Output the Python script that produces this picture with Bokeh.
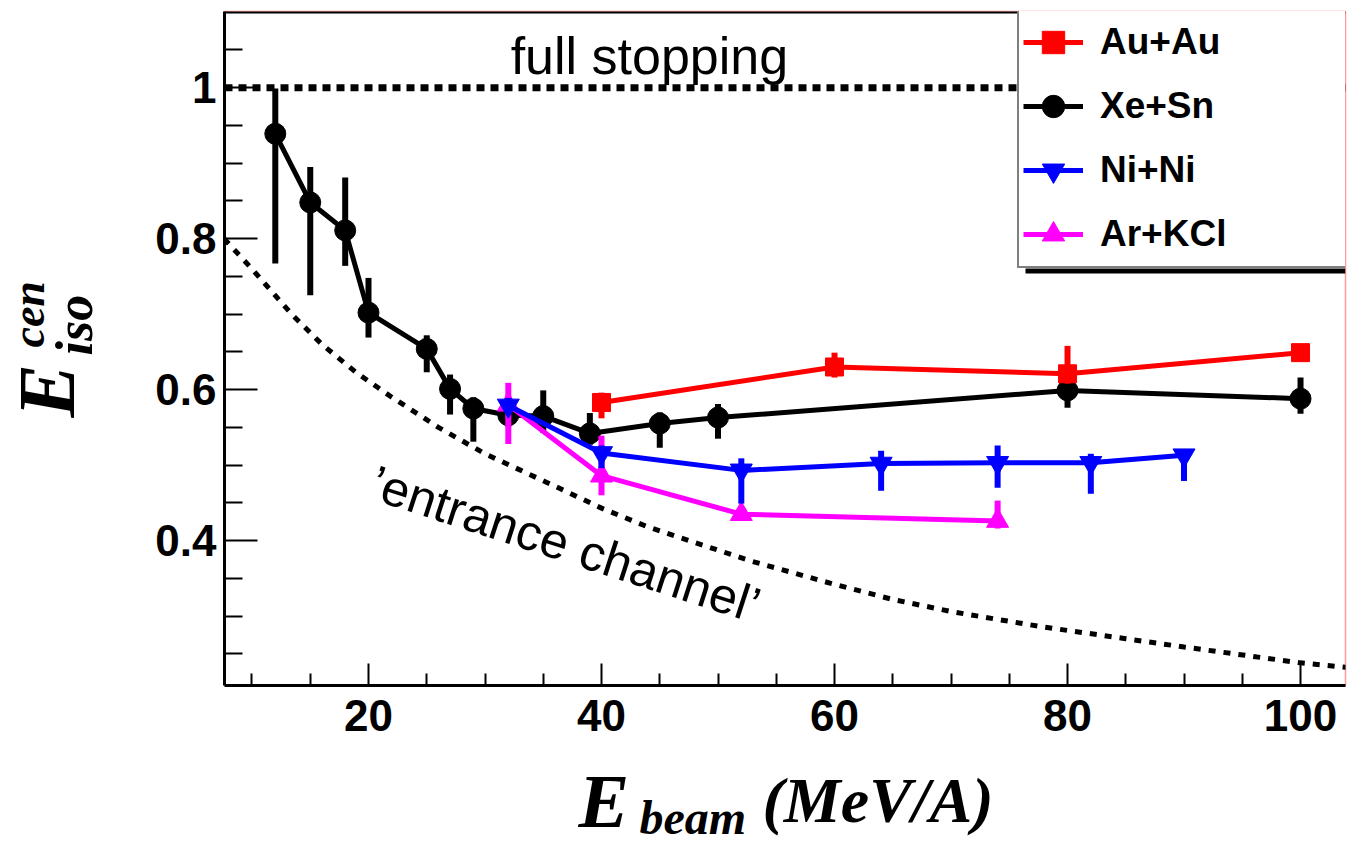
import numpy as np
from bokeh.plotting import figure
from bokeh.layouts import row, column
from bokeh.models import (Range1d, FixedTicker, CustomJSTickFormatter, Label, Legend,
                          LegendItem, Span, BoxAnnotation, ColumnDataSource)
from bokeh.embed import file_html
from bokeh.resources import INLINE

# ---- data: beam energy (MeV/A), E_iso^cen, lower / upper error ----
xesn_e = [12, 15, 18, 20, 25, 27, 29, 32, 35, 39, 45, 50, 80, 100]
xesn_v = [0.939, 0.848, 0.811, 0.702, 0.654, 0.601, 0.575, 0.566, 0.565, 0.542, 0.555, 0.563, 0.599, 0.588]
xesn_lo = [0.172, 0.123, 0.047, 0.033, 0.031, 0.034, 0.044, 0.015, 0.022, 0.015, 0.032, 0.028, 0.023, 0.020]
xesn_hi = [0.060, 0.047, 0.070, 0.046, 0.018, 0.019, 0.015, 0.015, 0.034, 0.027, 0.015, 0.018, 0.013, 0.028]

auau_e = [40, 60, 80, 100]
auau_v = [0.583, 0.630, 0.621, 0.649]
auau_lo = [0.021, 0.014, 0.013, 0.010]
auau_hi = [0.013, 0.019, 0.037, 0.010]

nini_e = [32, 40, 52, 64, 74, 82, 90]
nini_v = [0.579, 0.516, 0.493, 0.502, 0.503, 0.503, 0.513]
nini_lo = [0.010, 0.020, 0.044, 0.036, 0.033, 0.041, 0.034]
nini_hi = [0.010, 0.010, 0.016, 0.017, 0.023, 0.012, 0.008]

arkcl_e = [32, 40, 52, 74]
arkcl_v = [0.580, 0.486, 0.435, 0.426]
arkcl_lo = [0.052, 0.026, 0.005, 0.010]
arkcl_hi = [0.029, 0.053, 0.005, 0.027]

# 'entrance channel' reference curve
entrance_e = [7.6, 10, 13.4, 16, 19, 22, 26, 30, 35.6, 40, 44, 52.8, 60, 65, 70, 77.7, 85, 90, 100, 104]
entrance_v = [0.80, 0.76, 0.70, 0.66, 0.622, 0.59, 0.55, 0.515, 0.475, 0.443, 0.418, 0.373,
              0.342, 0.322, 0.306, 0.286, 0.270, 0.259, 0.238, 0.232]

full_stopping = 1.0

x_major = [20, 40, 60, 80, 100]
x_minor = [10, 15, 25, 30, 35, 45, 50, 55, 65, 70, 75, 85, 90, 95]
y_major = [0.4, 0.6, 0.8, 1.0]
y_minor = [0.25, 0.3, 0.35, 0.45, 0.5, 0.55, 0.65, 0.7, 0.75, 0.85, 0.9, 0.95, 1.05]

X_START, X_END = 7.64, 103.86
Y_START, Y_END = 0.208, 1.101

SANS = "Liberation Sans"
SERIF = "Liberation Serif"

TOTAL_W, TOTAL_H = 1349, 844
TITLE_W = 110                   # strip holding the y-axis title
MAIN_W, MAIN_H = TOTAL_W - TITLE_W, 750
XT_H = TOTAL_H - MAIN_H         # strip holding the x-axis title
FRAME_TOP, FRAME_BOTTOM = 11, 685

p = figure(width=MAIN_W, height=MAIN_H, output_backend="svg", toolbar_location=None,
           x_range=Range1d(X_START, X_END), y_range=Range1d(Y_START, Y_END),
           min_border_left=224 - TITLE_W, min_border_right=4, min_border_top=FRAME_TOP,
           min_border_bottom=MAIN_H - FRAME_BOTTOM)
p.background_fill_color = "white"
p.border_fill_color = "white"
p.outline_line_color = "#ff9a9a"
p.outline_line_width = 1.5
p.grid.visible = False

# axes
for ax in (p.xaxis[0], p.yaxis[0]):
    ax.axis_line_width = 3
    ax.axis_line_color = "black"
    ax.major_tick_line_width = 2
    ax.minor_tick_line_width = 2
    ax.major_tick_out = 0
    ax.minor_tick_out = 0
    ax.major_label_text_font = SANS
    ax.major_label_text_font_style = "bold"
    ax.major_label_text_font_size = "44px"
    ax.major_label_text_color = "black"

p.xaxis.ticker = FixedTicker(ticks=x_major, minor_ticks=x_minor)
p.xaxis.major_tick_in = 22
p.xaxis.minor_tick_in = 12
p.xaxis.major_label_standoff = 14

p.yaxis.ticker = FixedTicker(ticks=y_major, minor_ticks=y_minor)
p.yaxis.major_tick_in = 33
p.yaxis.minor_tick_in = 18
p.yaxis.major_label_standoff = 8
p.yaxis.formatter = CustomJSTickFormatter(code="return tick > 0.99 ? '1' : tick.toFixed(1);")

# top frame edge
p.add_layout(Span(location=Y_END, dimension="width", line_color="black", line_width=4))

# reference lines
p.line(entrance_e, entrance_v, line_color="black", line_width=5, line_dash="7 8")
p.add_layout(Span(location=full_stopping, dimension="width", line_color="black",
                  line_width=7, line_dash="8 6"))


def series(e, v, lo, hi, color, marker, size):
    e = np.array(e, dtype=float)
    v = np.array(v, dtype=float)
    src = ColumnDataSource(dict(e=e, v=v, v0=v - np.array(lo), v1=v + np.array(hi)))
    p.segment(x0="e", y0="v0", x1="e", y1="v1", source=src, line_color=color, line_width=6)
    ln = p.line("e", "v", source=src, line_color=color, line_width=5)
    pts = p.scatter("e", "v", source=src, marker=marker, size=size,
                    fill_color=color, line_color=color)
    return ln, pts


xe_l, xe_p = series(xesn_e, xesn_v, xesn_lo, xesn_hi, "black", "circle", 21)
ar_l, ar_p = series(arkcl_e, arkcl_v, arkcl_lo, arkcl_hi, "#ff00ff", "triangle", 22)
ni_l, ni_p = series(nini_e, nini_v, nini_lo, nini_hi, "#0000ff", "inverted_triangle", 22)
au_l, au_p = series(auau_e, auau_v, auau_lo, auau_hi, "#ff0000", "square", 18)

# annotations inside the frame
p.add_layout(Label(x=32.2, y=1.042, text="full stopping", text_font=SANS,
                   text_font_size="52px", text_color="black",
                   text_align="left", text_baseline="middle"))
p.add_layout(Label(x=36.9, y=0.395, text="\u2019entrance channel\u2019", text_font=SANS,
                   text_font_size="50px", text_color="black", angle=-18, angle_units="deg",
                   text_align="center", text_baseline="middle"))

# legend with drop shadow
p.add_layout(BoxAnnotation(left=801, right=1121, bottom=412, top=417,
                           left_units="screen", right_units="screen",
                           bottom_units="screen", top_units="screen",
                           fill_color="black", fill_alpha=1, line_color=None))
legend = Legend(items=[LegendItem(label="Au+Au", renderers=[au_l, au_p]),
                       LegendItem(label="Xe+Sn", renderers=[xe_l, xe_p]),
                       LegendItem(label="Ni+Ni", renderers=[ni_l, ni_p]),
                       LegendItem(label="Ar+KCl", renderers=[ar_l, ar_p])],
                location=(793, 417), orientation="vertical", margin=0, padding=4,
                spacing=8, glyph_width=60, glyph_height=56, label_height=56,
                label_width=243, label_standoff=17,
                label_text_font=SANS, label_text_font_style="bold",
                label_text_font_size="37px", label_text_color="black",
                border_line_color="black", border_line_width=2,
                background_fill_color="white", background_fill_alpha=1.0)
p.add_layout(legend)


def title_strip(w, h):
    f = figure(width=w, height=h, output_backend="svg", toolbar_location=None,
               x_range=Range1d(0, 1), y_range=Range1d(0, 1),
               x_axis_type=None, y_axis_type=None, min_border=0)
    f.outline_line_color = None
    f.grid.visible = False
    f.background_fill_color = "white"
    f.border_fill_color = "white"
    return f


def title_piece(text, x, y, size, angle=0):
    return Label(x=x, y=y, x_units="screen", y_units="screen", text=text,
                 angle=angle, angle_units="deg", text_font=SERIF,
                 text_font_style="bold italic", text_font_size=f"{size}px",
                 text_color="black", text_align="left", text_baseline="middle")


# y-axis title  E^cen_iso (reads bottom to top); the strip's frame lines up with
# the main frame, so y is measured up from the main frame's bottom edge
ytitle = title_strip(TITLE_W, MAIN_H)
ytitle.add_layout(title_piece("E", 46, FRAME_BOTTOM - 417, 80, angle=90))
ytitle.add_layout(title_piece("cen", 28, FRAME_BOTTOM - 347, 46, angle=90))
ytitle.add_layout(title_piece("iso", 74, FRAME_BOTTOM - 355, 52, angle=90))

# x-axis title  E_beam (MeV/A); y measured up from the page bottom
xtitle = title_strip(TOTAL_W, XT_H)
xtitle.add_layout(title_piece("E", 578, 44, 76))
xtitle.add_layout(title_piece("beam", 639, 27, 48))
xtitle.add_layout(title_piece("(MeV/A)", 762, 44, 64))

layout = column(row(ytitle, p), xtitle)

open("out.html", "w").write(file_html(layout, INLINE))
